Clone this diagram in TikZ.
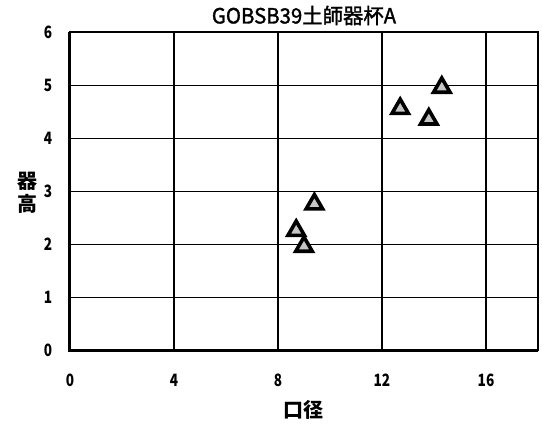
\documentclass[tikz,border=0pt]{standalone}
\usepackage{fontspec}
\setmainfont{Noto Sans CJK JP}
\usetikzlibrary{shapes.geometric, positioning}
\tikzset{
  tri/.style={regular polygon, regular polygon sides=3, draw, line width=3.6pt, fill=gray!45, minimum size=19pt, inner sep=0pt, yshift=-2pt},
  ticklab/.style={font=\bfseries\fontsize{17}{18}\selectfont, xscale=0.8},
  axislab/.style={font=\bfseries\fontsize{20}{23}\selectfont, align=center},
  gridline/.style={line width=1.2pt},
}

\begin{document}
\begin{tikzpicture}[x=26pt, y=53pt]
\useasboundingbox (-70pt,-77.5pt) rectangle (472pt,350.5pt);
% grid
\foreach \gx in {4,8,12,16} \draw[gridline] (\gx,0) -- (\gx,6);
\foreach \gy in {1,...,5} \draw[gridline] (0,\gy) -- (18,\gy);
% frame
\draw[line width=2pt] (0,0) rectangle (18,6);
\draw[line width=3pt] (0,6) -- (0,0) -- (18,0);
% tick labels
\foreach \ty in {0,...,6} \node[ticklab, anchor=east] (ylab\ty) at ([xshift=-15pt]0,\ty) {\ty};
\foreach \tx in {0,4,8,12,16} \node[ticklab] (xlab\tx) at ([yshift=-30pt]\tx,0) {\tx};
% titles
\node[font=\fontsize{21}{23}\selectfont, text width=220pt, align=center, xscale=0.97] (title) at ([yshift=17pt]9,6) {\addfontfeature{FakeBold=1.5}GOBSB39土師器杯A};
\node[axislab] (xtitle) at ([yshift=-59pt]9,0) {口径};
\node[axislab] (ytitle) at ([xshift=-42pt]0,2.97) {器\\高};
% data
\node[tri] (p1) at (14.3,5.0) {};
\node[tri] (p2) at (12.7,4.6) {};
\node[tri] (p3) at (13.8,4.4) {};
\node[tri] (p4) at (9.4,2.8) {};
\node[tri] (p5) at (8.7,2.3) {};
\node[tri] (p6) at (9.0,2.0) {};
\end{tikzpicture}
\end{document}
